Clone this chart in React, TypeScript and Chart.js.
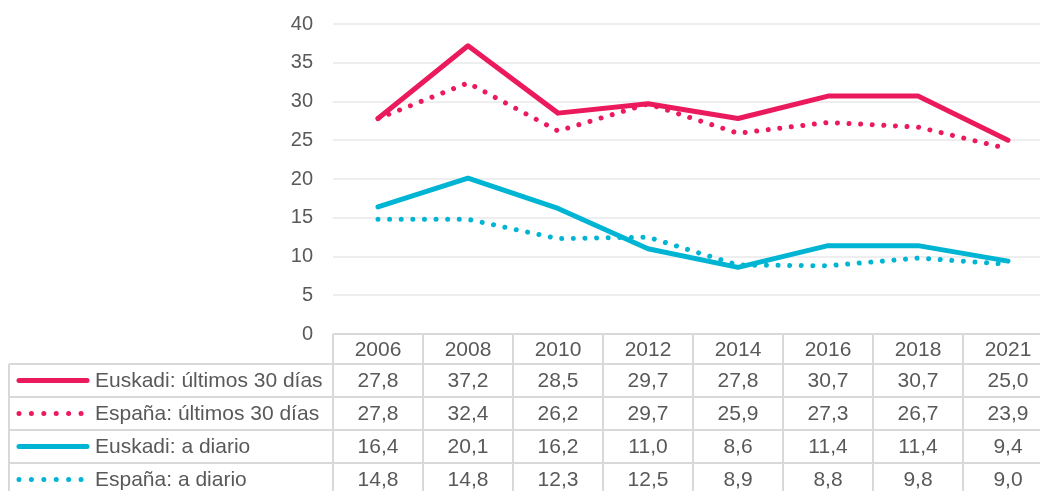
import React, { useEffect, useRef } from "react";
import { Chart, registerables } from "chart.js";

Chart.register(...registerables);

const years = ["2006", "2008", "2010", "2012", "2014", "2016", "2018", "2021"];
const euskadi30 = [27.8, 37.2, 28.5, 29.7, 27.8, 30.7, 30.7, 25.0];
const espana30 = [27.8, 32.4, 26.2, 29.7, 25.9, 27.3, 26.7, 23.9];
const euskadiDiario = [16.4, 20.1, 16.2, 11.0, 8.6, 11.4, 11.4, 9.4];
const espanaDiario = [14.8, 14.8, 12.3, 12.5, 8.9, 8.8, 9.8, 9.0];
const seriesNames = [
  "Euskadi: últimos 30 días",
  "España: últimos 30 días",
  "Euskadi: a diario",
  "España: a diario",
];

const PINK = "#EA1A5C";
const TEAL = "#00B5D3";
const FONT = "'Liberation Sans', Arial, sans-serif";
const TEXT = "#595959";
const BORDER = "#D9D9D9";

const fmt = (v: number) => v.toFixed(1).replace(".", ",");

const tablePlugin = {
  id: "dataTable",
  afterDraw(chart: any) {
    const ctx = chart.ctx;
    const x = chart.scales.x;
    const area = chart.chartArea;
    const colW = (area.right - area.left) / years.length;
    const headerTop = area.bottom;
    const headerH = 30;
    const rowH = 33;
    const tableLeft = 9;
    ctx.save();
    ctx.strokeStyle = BORDER;
    ctx.lineWidth = 2;
    ctx.beginPath();
    ctx.moveTo(area.left, headerTop);
    ctx.lineTo(area.right, headerTop);
    ctx.stroke();
    const rowsTop = headerTop + headerH;
    const nRows = seriesNames.length;
    for (let r = 0; r <= nRows; r++) {
      const y = rowsTop + r * rowH;
      ctx.beginPath();
      ctx.moveTo(tableLeft, y);
      ctx.lineTo(area.right, y);
      ctx.stroke();
    }
    for (let c = 0; c <= years.length; c++) {
      const xx = area.left + c * colW;
      ctx.beginPath();
      ctx.moveTo(xx, headerTop);
      ctx.lineTo(xx, rowsTop + nRows * rowH);
      ctx.stroke();
    }
    ctx.beginPath();
    ctx.moveTo(tableLeft, rowsTop);
    ctx.lineTo(tableLeft, rowsTop + nRows * rowH);
    ctx.stroke();

    ctx.fillStyle = TEXT;
    ctx.font = `21px ${FONT}`;
    ctx.textAlign = "center";
    ctx.textBaseline = "middle";
    years.forEach((yr, i) => {
      ctx.fillText(yr, x.getPixelForValue(i), headerTop + headerH / 2 + 1);
    });
    const datasets = chart.data.datasets;
    datasets.forEach((ds: any, r: number) => {
      const cy = rowsTop + r * rowH + rowH / 2;
      ds.data.forEach((v: number, i: number) => {
        ctx.fillStyle = TEXT;
        ctx.textAlign = "center";
        ctx.fillText(fmt(v), x.getPixelForValue(i), cy + 1);
      });
      ctx.strokeStyle = ds.borderColor;
      ctx.lineWidth = 5;
      ctx.lineCap = "round";
      if (ds.borderDash && ds.borderDash.length) {
        ctx.setLineDash([0.01, 12.4]);
        ctx.beginPath();
        ctx.moveTo(19, cy);
        ctx.lineTo(83, cy);
        ctx.stroke();
      } else {
        ctx.setLineDash([]);
        ctx.beginPath();
        ctx.moveTo(19, cy);
        ctx.lineTo(87, cy);
        ctx.stroke();
      }
      ctx.setLineDash([]);
      ctx.fillStyle = TEXT;
      ctx.textAlign = "left";
      ctx.fillText(ds.label, 95, cy + 1);
    });
    ctx.restore();
  },
};

export default function App() {
  const ref = useRef<HTMLCanvasElement>(null);
  useEffect(() => {
    if (!ref.current) return;
    const dotted = [0.01, 11.6];
    const chart = new Chart(ref.current, {
      type: "line",
      data: {
        labels: years,
        datasets: [
          { label: seriesNames[0], data: euskadi30, borderColor: PINK, backgroundColor: PINK, borderWidth: 5, borderCapStyle: "round", borderJoinStyle: "round", pointRadius: 0, tension: 0 },
          { label: seriesNames[1], data: espana30, borderColor: PINK, backgroundColor: PINK, borderWidth: 5, borderDash: dotted, borderCapStyle: "round", pointRadius: 0, tension: 0 },
          { label: seriesNames[2], data: euskadiDiario, borderColor: TEAL, backgroundColor: TEAL, borderWidth: 5, borderCapStyle: "round", borderJoinStyle: "round", pointRadius: 0, tension: 0 },
          { label: seriesNames[3], data: espanaDiario, borderColor: TEAL, backgroundColor: TEAL, borderWidth: 5, borderDash: dotted, borderCapStyle: "round", pointRadius: 0, tension: 0 },
        ],
      },
      options: {
        animation: false,
        responsive: true,
        maintainAspectRatio: false,
        layout: { padding: { top: 24, bottom: 157, left: 0, right: 0 } },
        plugins: { legend: { display: false }, tooltip: { enabled: false } },
        scales: {
          x: { display: false, offset: true },
          y: {
            min: 0,
            max: 40,
            ticks: { stepSize: 5, color: TEXT, font: { family: FONT, size: 20 }, padding: 20 },
            grid: { color: "#EEEEEE", lineWidth: 2, drawTicks: false },
            border: { display: false },
            afterFit: (s: any) => { s.width = 333; s.paddingTop = 0; s.paddingBottom = 0; },
          },
        },
      },
      plugins: [tablePlugin],
    });
    return () => chart.destroy();
  }, []);
  return (
    <div style={{ position: "fixed", left: 0, top: 0, width: 1040, height: 491, overflow: "hidden", background: "#fff" }}>
      <div style={{ position: "relative", width: 1053, height: 491 }}>
        <canvas ref={ref} />
      </div>
    </div>
  );
}
